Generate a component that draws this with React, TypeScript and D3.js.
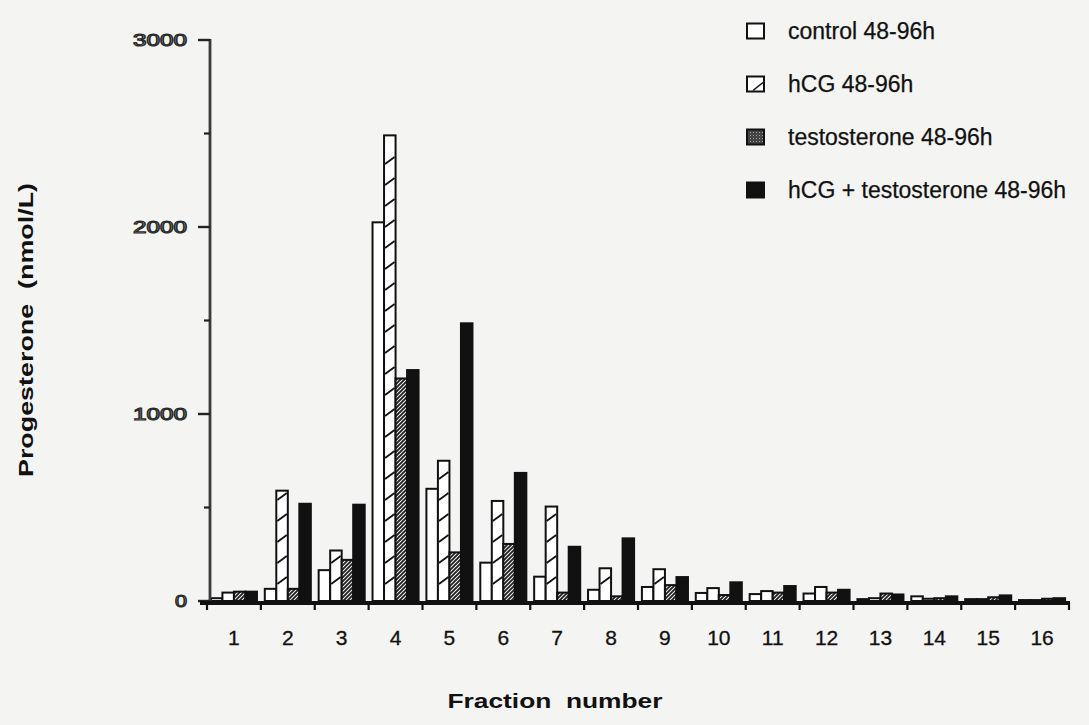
import React from "react";
import * as d3 from "d3";

// Progesterone per HPLC fraction, four culture conditions (48-96h)
const fractions = ["1", "2", "3", "4", "5", "6", "7", "8", "9", "10", "11", "12", "13", "14", "15", "16"];
const seriesNames = [
  "control 48-96h",
  "hCG 48-96h",
  "testosterone 48-96h",
  "hCG + testosterone 48-96h",
];
const controlValues = [15, 65, 165, 2025, 600, 205, 130, 60, 75, 43, 37, 40, 10, 25, 10, 5];
const hcgValues = [45, 590, 270, 2490, 750, 535, 505, 175, 170, 69, 53, 75, 15, 12, 10, 5];
const testosteroneValues = [50, 65, 220, 1190, 260, 305, 45, 25, 85, 32, 45, 45, 40, 15, 20, 12];
const combinedValues = [50, 520, 515, 1235, 1485, 685, 290, 335, 128, 100, 80, 60, 35, 25, 30, 15];
const yTicksMajor = [0, 1000, 2000, 3000];
const yTicksMinor = [500, 1500, 2500];

const seriesValues = [controlValues, hcgValues, testosteroneValues, combinedValues];

const W = 1089;
const H = 725;
const FONT = "'Liberation Sans', Arial, Helvetica, sans-serif";

export default function App() {
  const y = d3.scaleLinear().domain([0, 3000]).range([601, 40]);
  const x = d3.scaleBand().domain(fractions).range([207, 1069]).padding(0);
  const xs = d3
    .scaleBand()
    .domain(seriesNames)
    .range([0, x.bandwidth()])
    .paddingInner(0)
    .paddingOuter(0.34);
  const bw = xs.bandwidth();
  const y0 = y(0);

  const fillFor = (s: number) =>
    s === 0 ? "#ffffff" : s === 1 ? "#ffffff" : s === 2 ? "url(#testoPat)" : "#111111";

  // hatch strokes inside hCG bars, spaced every ~21px up from the baseline
  const hatchStep = 21;

  const bars: React.ReactNode[] = [];
  seriesValues.forEach((vals, s) => {
    vals.forEach((v, i) => {
      const bx = (x(fractions[i]) ?? 0) + (xs(seriesNames[s]) ?? 0);
      const top = y(v);
      const h = y0 - top;
      bars.push(
        <rect
          key={`b-${s}-${i}`}
          x={bx}
          y={top}
          width={bw}
          height={h}
          fill={fillFor(s)}
          stroke="#111"
          strokeWidth={2}
        />
      );
      if (s === 1) {
        const marks = d3.range(y0 - hatchStep, top + 4, -hatchStep);
        marks.forEach((my, k) => {
          bars.push(
            <line
              key={`h-${i}-${k}`}
              x1={bx + 1}
              y1={my + 4}
              x2={bx + bw - 1}
              y2={my - 3}
              stroke="#111"
              strokeWidth={1.8}
            />
          );
        });
      }
    });
  });

  const legendX = 747;
  const legendY = d3.scaleLinear().domain([0, 3]).range([31, 190]);

  return (
    <svg
      width={W}
      height={H}
      viewBox={`0 0 ${W} ${H}`}
      style={{ position: "absolute", left: 0, top: 0, display: "block" }}
      fontFamily={FONT}
    >
      <defs>
        <pattern id="testoPat" width={4} height={4} patternUnits="userSpaceOnUse">
          <rect width={4} height={4} fill="#f4f4f2" />
          <path d="M0,4 L4,0 M-1,1 L1,-1 M3,5 L5,3" stroke="#222" strokeWidth={1.9} />
        </pattern>
        <pattern id="testoLegend" width={3} height={3} patternUnits="userSpaceOnUse">
          <rect width={3} height={3} fill="#444" />
          <rect width={1} height={1} fill="#9a9a9a" />
        </pattern>
      </defs>
      <rect width={W} height={H} fill="#f4f4f2" />

      {/* bars */}
      <g>{bars}</g>

      {/* y axis */}
      <line x1={210} x2={210} y1={y(0) + 2} y2={y(3000) - 1} stroke="#3a3a3a" strokeWidth={2.8} />
      {yTicksMajor.map((t) => (
        <g key={`yt-${t}`}>
          <line x1={198} x2={210} y1={y(t)} y2={y(t)} stroke="#222" strokeWidth={2.4} />
          <text
            x={187}
            y={y(t) + 6}
            textAnchor="end"
            fontSize={17}
            fill="#e6e6e4"
            stroke="#2a2a2a"
            strokeWidth={1.2}
            textLength={t === 0 ? 12 : 54}
            lengthAdjust="spacingAndGlyphs"
          >
            {t}
          </text>
        </g>
      ))}
      {yTicksMinor.map((t) => (
        <line key={`ym-${t}`} x1={204} x2={210} y1={y(t)} y2={y(t)} stroke="#222" strokeWidth={2.2} />
      ))}

      {/* x axis */}
      <line x1={200} x2={1070} y1={y0 + 2} y2={y0 + 2} stroke="#111" strokeWidth={4} />
      {fractions.map((f) => {
        const right = (x(f) ?? 0) + x.bandwidth();
        return (
          <line key={`xt-${f}`} x1={right} x2={right} y1={y0 + 2} y2={y0 + 9} stroke="#111" strokeWidth={2.2} />
        );
      })}
      <line x1={207} x2={207} y1={y0 + 2} y2={y0 + 9} stroke="#111" strokeWidth={2.2} />
      {fractions.map((f) => (
        <text
          key={`xl-${f}`}
          x={(x(f) ?? 0) + x.bandwidth() / 2}
          y={645}
          textAnchor="middle"
          fontSize={21}
          fill="#111"
          stroke="#111"
          strokeWidth={0.3}
        >
          {f}
        </text>
      ))}

      {/* axis titles */}
      <text
        x={555}
        y={708}
        textAnchor="middle"
        fontSize={20}
        fontWeight="bold"
        fill="#111"
        textLength={215}
        lengthAdjust="spacingAndGlyphs"
        style={{ whiteSpace: "pre" }}
      >
        {"Fraction  number"}
      </text>
      <text
        transform={`translate(33, 330) rotate(-90)`}
        textAnchor="middle"
        fontSize={21}
        fontWeight="bold"
        fill="#111"
        textLength={294}
        lengthAdjust="spacingAndGlyphs"
        style={{ whiteSpace: "pre" }}
      >
        {"Progesterone  (nmol/L)"}
      </text>

      {/* legend */}
      {seriesNames.map((name, s) => {
        const cy = legendY(s);
        const sw = 17;
        const sh = 15;
        const sx = legendX;
        const sy = cy - sh / 2;
        return (
          <g key={`lg-${s}`}>
            <rect
              x={sx}
              y={sy}
              width={sw}
              height={sh}
              fill={s === 2 ? "url(#testoLegend)" : s === 3 ? "#111" : "#ffffff"}
              stroke="#111"
              strokeWidth={2}
            />
            {s === 1 && (
              <line x1={sx + 6} y1={sy + sh - 1} x2={sx + sw - 1} y2={sy + 6} stroke="#111" strokeWidth={1.6} />
            )}
            <text x={788} y={cy + 8} fontSize={23} fill="#111" stroke="#111" strokeWidth={0.25}>
              {name}
            </text>
          </g>
        );
      })}
    </svg>
  );
}
